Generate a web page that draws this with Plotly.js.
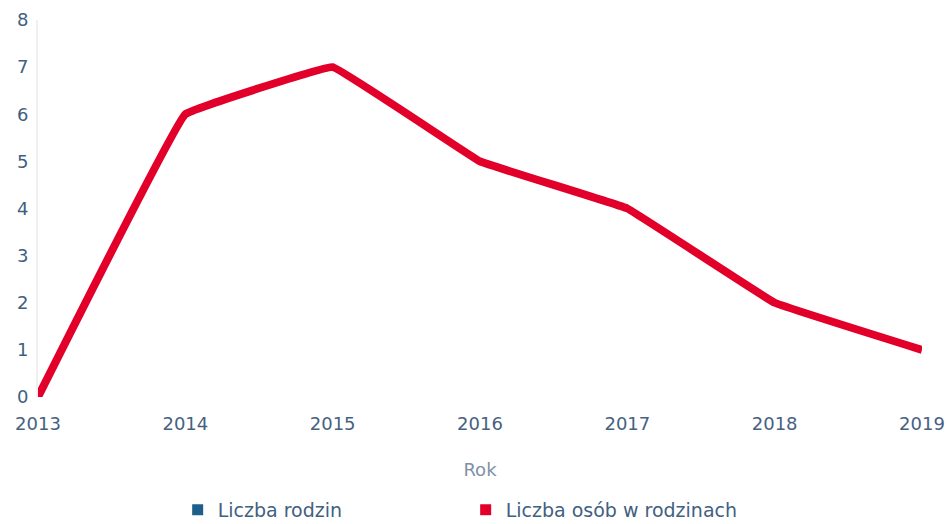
<!DOCTYPE html>
<html><head><meta charset="utf-8">
<script src="https://cdn.plot.ly/plotly-3.0.1.min.js"></script>
<style>html,body{margin:0;padding:0;background:#fff;}#chart{width:948px;height:524px;}</style>
</head><body><div id="chart"></div>
<script>
const years = [2013, 2014, 2015, 2016, 2017, 2018, 2019];
const liczbaRodzin = [null, null, null, null, null, null, null];
const liczbaOsob = [0, 6, 7, 5, 4, 2, 1];
const yTicks = [0, 1, 2, 3, 4, 5, 6, 7, 8];
const seriesNames = ['Liczba rodzin', 'Liczba osób w rodzinach'];
const colors = ['#1d5f8a', '#e2002a'];

const traces = [
  {x: years, y: liczbaRodzin, name: seriesNames[0], mode: 'markers', showlegend: true,
   marker: {symbol: 'square', size: 11, color: colors[0]}},
  {x: years, y: liczbaOsob, name: seriesNames[1], mode: 'lines', showlegend: false,
   line: {color: colors[1], width: 8, shape: 'spline', smoothing: 0.15}, cliponaxis: false},
  {x: [null], y: [null], name: seriesNames[1], mode: 'markers', showlegend: true,
   marker: {symbol: 'square', size: 11, color: colors[1]}}
];

const layout = {
  width: 948, height: 524,
  margin: {l: 38, r: 26, t: 20, b: 127},
  paper_bgcolor: '#fff', plot_bgcolor: '#fff',
  font: {family: 'DejaVu Sans, sans-serif', size: 17, color: '#42607f'},
  xaxis: {
    range: [2013, 2019], tickvals: years, ticktext: years.map(String),
    showgrid: false, zeroline: false, showline: false, ticks: '',
    automargin: false, ticklabelstandoff: 14,
    tickfont: {size: 18, weight: 500, color: '#46617f'},
    title: {text: 'Rok', font: {size: 18, color: '#7f91a8'}, standoff: 30}
  },
  yaxis: {
    range: [0, 8], tickvals: yTicks, showgrid: false, zeroline: false,
    showline: true, linecolor: '#f0f0f0', linewidth: 2, ticks: '',
    automargin: false, ticklabelstandoff: 4,
    tickfont: {size: 18, weight: 500, color: '#3f5f80'}
  },
  showlegend: true,
  legend: {orientation: 'h', x: 0.158, xanchor: 'left', yref: 'container', y: 0.027, yanchor: 'middle',
    entrywidth: 243, entrywidthmode: 'pixels', itemwidth: 30,
    font: {size: 19, color: '#42607f'}, bgcolor: 'rgba(0,0,0,0)'}
};

Plotly.newPlot('chart', traces, layout, {displayModeBar: false, staticPlot: true});
</script></body></html>
